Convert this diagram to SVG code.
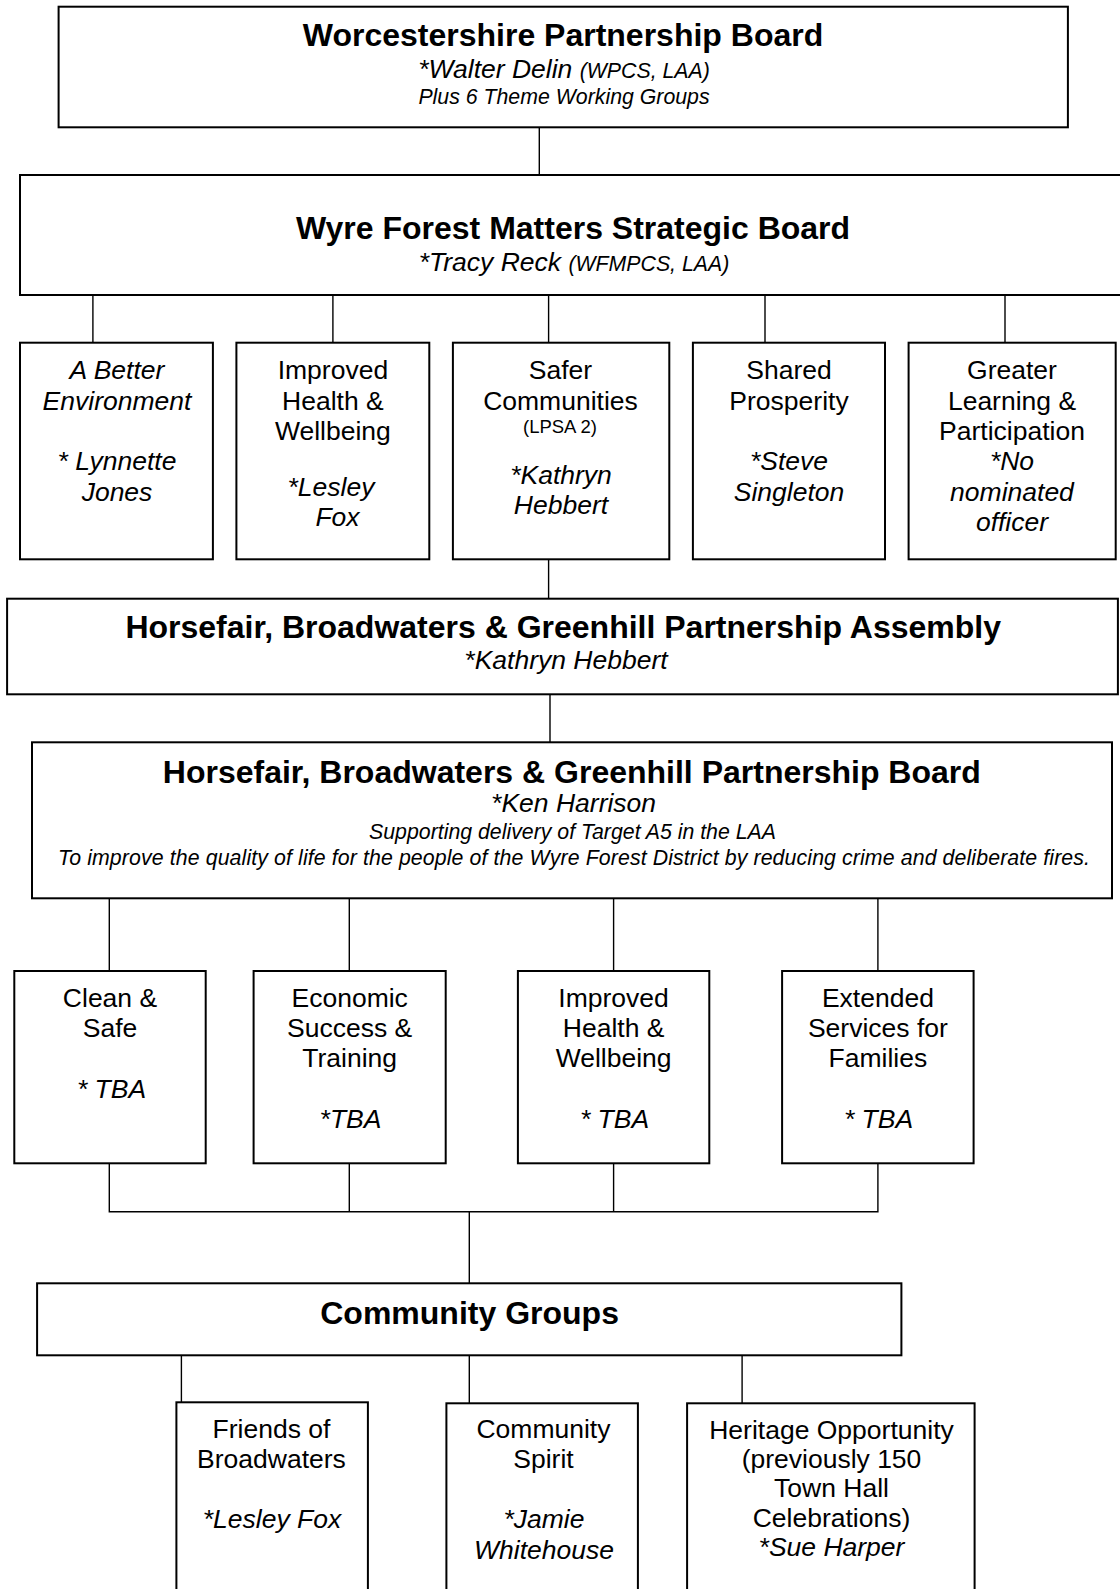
<svg xmlns="http://www.w3.org/2000/svg" width="1120" height="1589" viewBox="0 0 1120 1589">
<style>
.box{fill:#fff;stroke:#000;stroke-width:2}
.conn line,.conn path{stroke:#000;stroke-width:1.4;fill:none}
text{font-family:"Liberation Sans",Arial,sans-serif;fill:#000;text-anchor:middle}
.t{font-size:32px;font-weight:bold}
.n{font-size:26.5px}
.s{font-size:21.3px}
.xs{font-size:18.5px}
.i{font-style:italic}
</style>
<rect width="1120" height="1589" fill="#fff"/>
<g class="conn" id="connectors">
<line x1="539.3" y1="127" x2="539.3" y2="175"/>
<line x1="92.9" y1="295" x2="92.9" y2="343"/>
<line x1="332.9" y1="295" x2="332.9" y2="343"/>
<line x1="548.6" y1="295" x2="548.6" y2="343"/>
<line x1="765" y1="295" x2="765" y2="343"/>
<line x1="1005" y1="295" x2="1005" y2="343"/>
<line x1="548.6" y1="559" x2="548.6" y2="599"/>
<line x1="550" y1="694" x2="550" y2="742"/>
<line x1="109.3" y1="898" x2="109.3" y2="971"/>
<line x1="349.3" y1="898" x2="349.3" y2="971"/>
<line x1="613.6" y1="898" x2="613.6" y2="971"/>
<line x1="877.9" y1="898" x2="877.9" y2="971"/>
<path d="M109.3 1163V1211.7H877.9V1163M349.3 1163V1211.7M613.6 1163V1211.7"/>
<line x1="469.3" y1="1211.7" x2="469.3" y2="1283.3"/>
<line x1="181.4" y1="1355.3" x2="181.4" y2="1402.5"/>
<line x1="469.3" y1="1355.3" x2="469.3" y2="1403"/>
<line x1="742.1" y1="1355.3" x2="742.1" y2="1403"/>
</g>
<g id="worcestershire">
<rect class="box" x="58.6" y="6.7" width="1009.3" height="120.6"/>
<text x="563" y="45.7" class="t">Worcestershire Partnership Board</text>
<text x="564" y="78.3" class="i"><tspan class="n">*Walter Delin </tspan><tspan class="s">(WPCS, LAA)</tspan></text>
<text x="564" y="104" class="s i">Plus 6 Theme Working Groups</text>
</g>
<g id="wyre">
<rect class="box" x="20" y="175" width="1110" height="120"/>
<text x="573" y="239.3" class="t">Wyre Forest Matters Strategic Board</text>
<text x="574" y="270.7" class="i"><tspan class="n">*Tracy Reck </tspan><tspan class="s">(WFMPCS, LAA)</tspan></text>
</g>
<g id="theme-environment">
<rect class="box" x="20" y="342.7" width="192.9" height="216.6"/>
<text class="n i" x="117" y="379">A Better</text>
<text class="n i" x="117" y="409.5">Environment</text>
<text class="n i" x="117" y="470">* Lynnette</text>
<text class="n i" x="117" y="500.5">Jones</text>
</g>
<g id="theme-health">
<rect class="box" x="236.4" y="342.7" width="192.9" height="216.6"/>
<text class="n" x="332.9" y="379">Improved</text>
<text class="n" x="332.9" y="409.5">Health &amp;</text>
<text class="n" x="332.9" y="440">Wellbeing</text>
<text class="n i" x="331" y="495.7">*Lesley</text>
<text class="n i" x="337.5" y="525.5">Fox</text>
</g>
<g id="theme-safer">
<rect class="box" x="452.9" y="342.7" width="216.4" height="216.6"/>
<text class="n" x="560.5" y="379">Safer</text>
<text class="n" x="560.5" y="409.5">Communities</text>
<text class="xs" x="560" y="433">(LPSA 2)</text>
<text class="n i" x="561" y="483.5">*Kathryn</text>
<text class="n i" x="561" y="514">Hebbert</text>
</g>
<g id="theme-prosperity">
<rect class="box" x="692.9" y="342.7" width="192.1" height="216.6"/>
<text class="n" x="789" y="379">Shared</text>
<text class="n" x="789" y="409.5">Prosperity</text>
<text class="n i" x="789" y="470">*Steve</text>
<text class="n i" x="789" y="500.5">Singleton</text>
</g>
<g id="theme-learning">
<rect class="box" x="908.6" y="342.7" width="207.1" height="216.6"/>
<text class="n" x="1012" y="379">Greater</text>
<text class="n" x="1012" y="409.5">Learning &amp;</text>
<text class="n" x="1012" y="440">Participation</text>
<text class="n i" x="1012" y="470">*No</text>
<text class="n i" x="1012" y="500.5">nominated</text>
<text class="n i" x="1012" y="531">officer</text>
</g>
<g id="assembly">
<rect class="box" x="7.1" y="598.7" width="1110.8" height="95.6"/>
<text class="t" x="563.2" y="638.3">Horsefair, Broadwaters &amp; Greenhill Partnership Assembly</text>
<text class="n i" x="566" y="669">*Kathryn Hebbert</text>
</g>
<g id="board">
<rect class="box" x="32" y="742.3" width="1080" height="156"/>
<text class="t" x="571.8" y="782.7">Horsefair, Broadwaters &amp; Greenhill Partnership Board</text>
<text class="n i" x="573.6" y="812.3">*Ken Harrison</text>
<text class="s i" x="572.5" y="839.3">Supporting delivery of Target A5 in the LAA</text>
<text class="s i" x="574" y="865" textLength="1032" lengthAdjust="spacing">To improve the quality of life for the people of the Wyre Forest District by reducing crime and deliberate fires.</text>
</g>
<g id="team-clean">
<rect class="box" x="14.3" y="971" width="191.4" height="192.3"/>
<text class="n" x="110" y="1006.7">Clean &amp;</text>
<text class="n" x="110" y="1037">Safe</text>
<text class="n i" x="111.5" y="1097.6">* TBA</text>
</g>
<g id="team-economic">
<rect class="box" x="253.6" y="971" width="192.1" height="192.3"/>
<text class="n" x="349.7" y="1006.7">Economic</text>
<text class="n" x="349.7" y="1037">Success &amp;</text>
<text class="n" x="349.7" y="1067.3">Training</text>
<text class="n i" x="350.5" y="1128">*TBA</text>
</g>
<g id="team-health">
<rect class="box" x="517.9" y="971" width="191.4" height="192.3"/>
<text class="n" x="613.6" y="1006.7">Improved</text>
<text class="n" x="613.6" y="1037">Health &amp;</text>
<text class="n" x="613.6" y="1067.3">Wellbeing</text>
<text class="n i" x="614.5" y="1128">* TBA</text>
</g>
<g id="team-extended">
<rect class="box" x="782.1" y="971" width="191.5" height="192.3"/>
<text class="n" x="877.9" y="1006.7">Extended</text>
<text class="n" x="877.9" y="1037">Services for</text>
<text class="n" x="877.9" y="1067.3">Families</text>
<text class="n i" x="878.5" y="1128">* TBA</text>
</g>
<g id="community-groups">
<rect class="box" x="37.1" y="1283.3" width="864.3" height="72"/>
<text class="t" x="469.6" y="1324">Community Groups</text>
</g>
<g id="friends-broadwaters">
<rect class="box" x="176.4" y="1402.3" width="191.5" height="200"/>
<text class="n" x="271.5" y="1437.5">Friends of</text>
<text class="n" x="271.5" y="1467.8">Broadwaters</text>
<text class="n i" x="272" y="1528.3">*Lesley Fox</text>
</g>
<g id="community-spirit">
<rect class="box" x="446.4" y="1403.3" width="191.5" height="200"/>
<text class="n" x="543.5" y="1438">Community</text>
<text class="n" x="543.5" y="1467.8">Spirit</text>
<text class="n i" x="544" y="1528.3">*Jamie</text>
<text class="n i" x="544" y="1558.5">Whitehouse</text>
</g>
<g id="heritage">
<rect class="box" x="687.1" y="1403.3" width="287.5" height="200"/>
<text class="n" x="831.5" y="1438.5">Heritage Opportunity</text>
<text class="n" x="831.5" y="1467.8">(previously 150</text>
<text class="n" x="831.5" y="1497">Town Hall</text>
<text class="n" x="831.5" y="1526.7">Celebrations)</text>
<text class="n i" x="831.5" y="1555.5">*Sue Harper</text>
</g>
</svg>
